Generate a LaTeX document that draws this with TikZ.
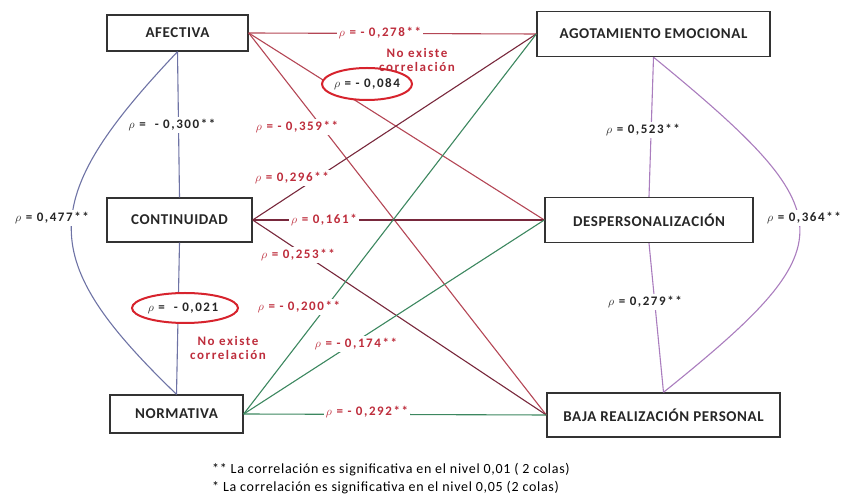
\documentclass[tikz,border=0pt]{standalone}
\usepackage{fontspec}
\setmainfont{Carlito}
\newfontfamily\cajafont{Carlito}[LetterSpace=4]
\newfontfamily\coeffont{Carlito}[LetterSpace=12]
\newfontfamily\notafont{Carlito}[LetterSpace=5]
\usetikzlibrary{shapes.geometric}
\definecolor{afec}{RGB}{180,70,85}
\definecolor{cont}{RGB}{120,40,60}
\definecolor{norm}{RGB}{60,135,95}
\definecolor{izq}{RGB}{110,115,165}
\definecolor{der}{RGB}{170,125,190}
\definecolor{rojo}{RGB}{190,45,60}
\definecolor{circulo}{RGB}{215,35,45}
\begin{document}
\begin{tikzpicture}[x=1pt,y=1pt,
 caja/.style={draw=black!80,line width=1.4pt,inner sep=0pt,font=\cajafont\fontsize{15}{17}\selectfont\bfseries,text=black!85},
 coef/.style={fill=white,inner sep=2pt,font=\coeffont\fontsize{13}{15}\selectfont\bfseries,text=rojo},
 coefn/.style={coef,text=black!85},
 aviso/.style={align=center,inner sep=1pt,font=\coeffont\fontsize{13}{14}\selectfont\bfseries,text=rojo},
 nulo/.style={circulo,line width=2pt,fill=white}]
 \useasboundingbox (0,0) rectangle (846,503);
 % cajas
 \node[caja,minimum width=141pt,minimum height=36pt] (afectiva) at (177.5,470) {AFECTIVA};
 \node[caja,minimum width=145pt,minimum height=44pt] (continuidad) at (179.5,283) {CONTINUIDAD};
 \node[caja,minimum width=133pt,minimum height=38pt] (normativa) at (176.5,89) {NORMATIVA};
 \node[caja,minimum width=233pt,minimum height=45pt] (agotamiento) at (653.5,469) {AGOTAMIENTO EMOCIONAL};
 \node[caja,minimum width=208pt,minimum height=45pt] (despers) at (649,283) {DESPERSONALIZACIÓN};
 \node[caja,minimum width=233pt,minimum height=44pt] (baja) at (663.5,88) {BAJA REALIZACIÓN PERSONAL};
 % lineas
 \draw[afec,line width=1.1pt] (afectiva.east) -- (agotamiento.west);
 \draw[afec,line width=1.1pt] (afectiva.east) -- (despers.west);
 \draw[afec,line width=1.1pt] (afectiva.east) -- (baja.west);
 \draw[cont,line width=1.1pt] (continuidad.east) -- (agotamiento.west);
 \draw[cont,line width=1.1pt] (continuidad.east) -- (despers.west);
 \draw[cont,line width=1.1pt] (continuidad.east) -- (baja.west);
 \draw[norm,line width=1.1pt] (normativa.east) -- (agotamiento.west);
 \draw[norm,line width=1.1pt] (normativa.east) -- (despers.west);
 \draw[norm,line width=1.1pt] (normativa.east) -- (baja.west);
 \draw[izq,line width=1.1pt] (afectiva.south) -- (continuidad.north);
 \draw[izq,line width=1.1pt] (continuidad.south) -- (normativa.north);
 \draw[izq,line width=1.1pt] (afectiva.south) .. controls (36,302) and (36,244) .. (normativa.north);
 \draw[der,line width=1.1pt] (agotamiento.south) -- (despers.north);
 \draw[der,line width=1.1pt] (despers.south) -- (baja.north);
 \draw[der,line width=1.1pt] (agotamiento.south) .. controls (846,288) and (848,259) .. (baja.north);
 % coeficientes
 \node[coef] (r278) at (380,470) {$\rho$ = - 0,278**};
 \draw[nulo] (367,419) ellipse [x radius=45pt,y radius=16pt];
 \node[coefn,fill=none] (r084) at (367,419) {$\rho$ = - 0,084};
 \node[aviso] (sin1) at (417,443) {No existe\\correlación};
 \node[coef] (r359) at (297,376) {$\rho$ = - 0,359**};
 \node[coef] (r296) at (292,325) {$\rho$ = 0,296**};
 \node[coef] (r161) at (324,283) {$\rho$ = 0,161*};
 \node[coef] (r253) at (298,248) {$\rho$ = 0,253**};
 \node[coef] (r200) at (299,196) {$\rho$ = - 0,200**};
 \node[coef] (r174) at (356,159) {$\rho$ = - 0,174**};
 \node[coef] (r292) at (367,91) {$\rho$ = - 0,292**};
 \node[coefn] (r300) at (172,378) {$\rho$ = \ - 0,300**};
 \draw[nulo] (185,195) ellipse [x radius=53pt,y radius=15pt];
 \node[coefn,fill=none] (r021) at (183,195) {$\rho$ = \ - 0,021};
 \node[aviso,fill=white] (sin2) at (228,155) {No existe\\correlación};
 \node[coefn] (r477) at (52,285) {$\rho$ = 0,477**};
 \node[coefn] (r523) at (643,373) {$\rho$ = 0,523**};
 \node[coefn] (r279) at (645,201) {$\rho$ = 0,279**};
 \node[coefn] (r364) at (804,285) {$\rho$ = 0,364**};
 % notas
 \node[anchor=west,inner sep=0pt,font=\notafont\fontsize{14}{16}\selectfont] (nota1) at (212,33) {** La correlación es significativa en el nivel 0,01 ( 2 colas)};
 \node[anchor=west,inner sep=0pt,font=\notafont\fontsize{14}{16}\selectfont] (nota2) at (212,15) {* La correlación es significativa en el nivel 0,05 (2 colas)};
\end{tikzpicture}
\end{document}
